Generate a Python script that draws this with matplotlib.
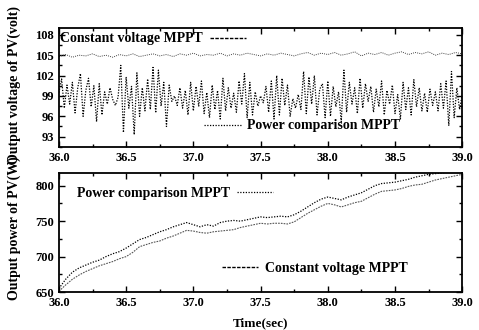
import numpy as np
import matplotlib
matplotlib.use("Agg")
import matplotlib.pyplot as plt
from matplotlib.ticker import MultipleLocator, FormatStrFormatter
from matplotlib.lines import Line2D

plt.rcParams['font.family'] = ['Liberation Serif', 'DejaVu Serif']
plt.rcParams['font.weight'] = 'bold'

# ---- data ----
t_start, t_end = 36.0, 39.0

# output voltage, power comparison MPPT (0.02 s steps)
pc_volt = [
    99.5, 101.5, 97.2, 100.6, 97.8, 101.0, 96.5, 100.2, 102.3, 96.0,
    99.8, 101.6, 97.4, 100.5, 95.2, 100.8, 96.2, 99.6, 97.8, 100.2,
    98.5, 97.6, 98.8, 103.5, 93.6, 101.8, 97.2, 100.4, 93.3, 102.4,
    96.0, 100.2, 96.8, 101.5, 97.0, 103.2, 96.5, 102.8, 97.5, 101.0,
    94.5, 100.6, 98.2, 99.0, 97.6, 100.2, 97.2, 99.8, 96.2, 101.0,
    96.8, 100.4, 97.5, 101.2, 96.4, 99.5, 95.8, 100.6, 97.0, 99.8,
    95.6, 101.6, 96.8, 100.2, 97.2, 99.4, 96.6, 101.2, 97.8, 102.3,
    95.8, 101.0, 96.2, 99.6, 97.5, 99.0, 98.0, 100.4, 96.6, 101.2,
    95.6, 102.0, 96.2, 101.6, 97.6, 100.6, 96.0, 98.6, 97.2, 99.2,
    97.0, 102.6, 96.4, 101.8, 97.8, 102.0, 96.2, 100.0, 100.8, 95.8,
    101.2, 96.0, 100.4, 97.4, 99.6, 95.2, 102.8, 96.6, 101.0, 97.8,
    100.2, 96.4, 101.6, 97.2, 100.8, 98.2, 100.4, 96.6, 100.0, 97.4,
    101.2, 96.2, 99.8, 97.8, 100.6, 96.4, 99.2, 95.6, 101.0, 97.0,
    100.2, 96.2, 101.4, 97.4, 100.2, 96.8, 99.4, 96.6, 100.0, 97.6,
    99.6, 96.8, 100.8, 97.2, 101.2, 94.6, 102.6, 95.8, 100.2, 97.0,
    99.2,
]

# output voltage, constant voltage MPPT (0.05 s steps)
cv_volt = [
    104.8, 105.1, 104.7, 105.0, 104.9, 105.2, 104.8, 105.0, 104.7, 105.1,
    104.9, 105.2, 104.8, 105.0, 105.2, 104.9, 105.1, 104.8, 105.2, 105.0,
    105.3, 104.9, 105.1, 105.0, 105.3, 104.9, 105.2, 105.0, 105.3, 105.1,
    104.9, 105.2, 105.0, 105.3, 105.1, 104.9, 105.2, 105.4, 105.0, 105.3,
    105.1, 105.4, 105.0, 105.2, 105.5, 104.9, 105.3, 105.1, 105.4, 105.0,
    105.3, 105.5, 105.1, 105.4, 105.2, 105.5, 105.0, 105.3, 105.1, 105.4,
    105.2,
]

# output power (0.05 s steps)
pc_power = [
    655, 668, 678, 684, 688, 692, 695, 700, 704, 707,
    712, 718, 724, 727, 731, 735, 738, 742, 745, 748,
    745, 742, 745, 743, 748, 750, 751, 750, 752, 754,
    756, 755, 756, 757, 756, 759, 764, 770, 776, 781,
    784, 782, 780, 784, 787, 790, 795, 800, 803, 804,
    805, 807, 809, 812, 814, 816, 817, 818, 819, 820, 821,
]
cv_power = [
    651, 660, 668, 674, 679, 683, 687, 690, 693, 697,
    700, 706, 714, 717, 720, 722, 726, 729, 733, 737,
    736, 734, 733, 735, 736, 737, 738, 741, 743, 745,
    747, 746, 747, 747, 746, 749, 755, 761, 766, 771,
    775, 773, 770, 773, 776, 778, 783, 788, 792, 793,
    794, 796, 799, 801, 802, 805, 808, 810, 812, 814, 816,
]

pc_label = 'Power comparison MPPT'
cv_label = 'Constant voltage MPPT'

dot = (0, (1, 1.2))
fine = (0, (1.5, 1.0))
dash = (0, (2.5, 1.0))


def time_axis(vals):
    return np.linspace(t_start, t_end, len(vals))


def style_axes(ax, ymajor, yminor):
    ax.set_xlim(t_start, t_end)
    ax.xaxis.set_major_locator(MultipleLocator(0.5))
    ax.xaxis.set_minor_locator(MultipleLocator(0.25))
    ax.xaxis.set_major_formatter(FormatStrFormatter('%.1f'))
    ax.yaxis.set_major_locator(MultipleLocator(ymajor))
    ax.yaxis.set_minor_locator(MultipleLocator(yminor))
    ax.tick_params(which='both', direction='in', top=True, right=True,
                   labelsize=9, width=1.0)
    ax.tick_params(which='major', length=4)
    ax.tick_params(which='minor', length=2)
    for s in ax.spines.values():
        s.set_linewidth(1.3)
    for lab in ax.get_xticklabels() + ax.get_yticklabels():
        lab.set_fontweight('bold')


def add_key(ax, handle, text, loc, anchor, first):
    return ax.legend([handle], [text], loc=loc, bbox_to_anchor=anchor,
                     frameon=False, markerfirst=first, handlelength=2.6,
                     handletextpad=0.5, borderaxespad=0,
                     prop={'size': 10, 'weight': 'bold'})


fig = plt.figure(figsize=(4.79, 3.30), dpi=100)
ax1 = fig.add_axes([0.123, 0.555, 0.842, 0.360])
ax2 = fig.add_axes([0.123, 0.115, 0.842, 0.361])

# ---- top: voltage ----
ax1.plot(time_axis(pc_volt), pc_volt, color='black', lw=0.9, ls=dot)
ax1.plot(time_axis(cv_volt), cv_volt, color='#444444', lw=0.7, ls=dot)
ax1.set_ylim(91.5, 109.0)
style_axes(ax1, 3, 1.5)
ax1.set_ylabel('Output voltage of PV(volt)', fontsize=10, fontweight='bold')
ax1.yaxis.set_label_coords(-0.093, 0.52)

leg1 = add_key(ax1, Line2D([], [], color='black', lw=1.0, ls=dash), cv_label,
               'upper left', (-0.01, 1.01), False)
ax1.add_artist(leg1)
add_key(ax1, Line2D([], [], color='black', lw=0.9, ls=dot), pc_label,
        'lower left', (0.347, 0.075), True)

# ---- bottom: power ----
ax2.plot(time_axis(pc_power), pc_power, color='black', lw=0.9, ls=dot)
ax2.plot(time_axis(cv_power), cv_power, color='#555555', lw=0.8, ls=fine)
ax2.set_ylim(650, 818)
style_axes(ax2, 50, 25)
ax2.set_ylabel('Output power of PV(W)', fontsize=10, fontweight='bold')
ax2.yaxis.set_label_coords(-0.093, 0.54)
ax2.set_xlabel('Time(sec)', fontsize=9.5, fontweight='bold', labelpad=6)

leg2 = add_key(ax2, Line2D([], [], color='black', lw=0.9, ls=dot), pc_label,
               'upper left', (0.03, 0.93), False)
ax2.add_artist(leg2)
add_key(ax2, Line2D([], [], color='black', lw=1.0, ls=dash), cv_label,
        'lower left', (0.39, 0.095), True)

fig.savefig('out.png', dpi=100)
